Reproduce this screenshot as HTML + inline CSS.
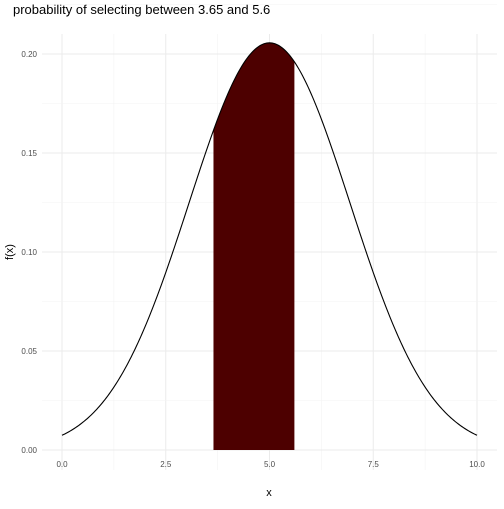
<!DOCTYPE html>
<html><head><meta charset="utf-8"><style>
body{margin:0;background:#fff;font-family:"Liberation Sans",sans-serif}
</style></head><body>
<svg id="c" width="504" height="504" xmlns="http://www.w3.org/2000/svg">
<text x="13" y="14" font-size="13" fill="#000">probability of selecting between 3.65 and 5.6</text>
<text x="269" y="496" font-size="11" text-anchor="middle">x</text>
<text transform="translate(13,252) rotate(-90)" font-size="11" text-anchor="middle">f(x)</text>
<g id="grid"></g><g id="marks"></g><g id="ticks"></g>
</svg>
<script>
const mean = 5;
const sd = 1.94;
const xRange = [0, 10];
const shadeRange = [3.65, 5.6];
const xTicks = [0, 2.5, 5, 7.5, 10];
const xTickLabels = ["0.0", "2.5", "5.0", "7.5", "10.0"];
const yTicks = [0, 0.05, 0.1, 0.15, 0.2];
const yTickLabels = ["0.00", "0.05", "0.10", "0.15", "0.20"];
const NS = "http://www.w3.org/2000/svg";
const X = v => 62 + (v - 0) * (477 - 62) / 10;
const Y = v => 450 - v * (450 - 54) / 0.2;
const f = x => Math.exp(-((x - mean) ** 2) / (2 * sd * sd)) / (sd * Math.sqrt(2 * Math.PI));
function mk(t, a, p) { const e = document.createElementNS(NS, t); for (const k in a) e.setAttribute(k, a[k]); p.appendChild(e); return e; }
const grid = document.getElementById('grid'), marks = document.getElementById('marks'), ticks = document.getElementById('ticks');
for (let i = 0; i < xTicks.length; i++) {
  const l = mk('line', {x1: X(xTicks[i]), x2: X(xTicks[i]), y1: 34, y2: 470, stroke: '#ebebeb', 'stroke-width': 1}, grid);
  
  
  if (i < xTicks.length - 1) {
    const m = (xTicks[i] + xTicks[i + 1]) / 2;
    const ml = mk('line', {x1: X(m), x2: X(m), y1: 34, y2: 470, stroke: '#f3f3f3', 'stroke-width': 0.6}, grid);
    
    
  }
  const t = mk('text', {x: X(xTicks[i]), y: 467, 'font-size': 8, fill: '#4d4d4d', 'text-anchor': 'middle'}, ticks);
  t.textContent = xTickLabels[i];
  
  
}
for (let i = 0; i < yTicks.length; i++) {
  const l = mk('line', {x1: 42, x2: 497, y1: Y(yTicks[i]), y2: Y(yTicks[i]), stroke: '#ebebeb', 'stroke-width': 1}, grid);
  
  
  const m = yTicks[i] + 0.025;
  const ml = mk('line', {x1: 42, x2: 497, y1: Y(m), y2: Y(m), stroke: '#f3f3f3', 'stroke-width': 0.6}, grid);
  
  
  const t = mk('text', {x: 37, y: Y(yTicks[i]) + 3, 'font-size': 8, fill: '#4d4d4d', 'text-anchor': 'end'}, ticks);
  t.textContent = yTickLabels[i];
  
  
}
let sp = `M${X(shadeRange[0])},${Y(0)}`;
for (let i = 0; i <= 100; i++) { const x = shadeRange[0] + (shadeRange[1] - shadeRange[0]) * i / 100; sp += `L${X(x)},${Y(f(x))}`; }
sp += `L${X(shadeRange[1])},${Y(0)}Z`;
const area = mk('path', {d: sp, fill: '#4d0000'}, marks);


let cp = '';
for (let i = 0; i <= 300; i++) { const x = xRange[0] + (xRange[1] - xRange[0]) * i / 300; cp += (i ? 'L' : 'M') + X(x) + ',' + Y(f(x)); }
const curve = mk('path', {d: cp, fill: 'none', stroke: '#000', 'stroke-width': 1.1}, marks);


</script>
</body></html>
